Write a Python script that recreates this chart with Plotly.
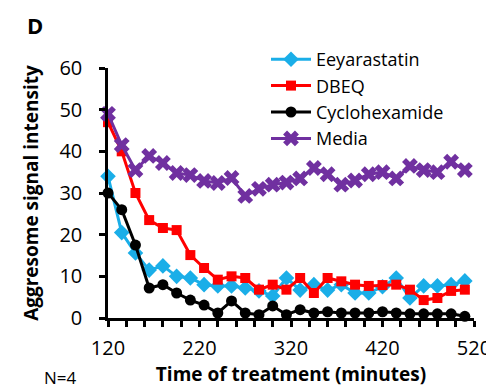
import plotly.graph_objects as go

time_min = [120, 135, 150, 165, 180, 195, 210, 225, 240, 255, 270, 285, 300, 315,
            330, 345, 360, 375, 390, 405, 420, 435, 450, 465, 480, 495, 510]

eeyarastatin = [34, 20.5, 15.6, 11.5, 12.5, 10, 9.6, 8, 7.7, 7.7, 7.2, 6.5, 5.3, 9.6,
                6.7, 8, 6.7, 8, 6, 6, 7.5, 9.6, 4.8, 7.7, 7.7, 8, 8.9]
dbeq = [47, 40, 30, 23.5, 21.6, 21.1, 15.1, 12, 9.2, 10, 9.6, 6.8, 8, 6.8,
        9.6, 6, 9.6, 8.8, 8, 7.7, 7.9, 8, 6.8, 4.3, 4.8, 6.5, 6.8]
cyclohexamide = [30, 26, 17.5, 7.2, 8, 6, 4.3, 3.1, 1.2, 4.1, 1.2, 0.8, 2.9, 0.8,
                 2, 1.2, 1.5, 1.2, 1.2, 1.2, 1.5, 1.2, 1, 1, 1, 1, 0.4]
media = [49, 41.5, 35.5, 38.9, 37.2, 34.8, 34.3, 32.9, 32.4, 33.6, 29.3, 31, 32, 32.5,
         33.5, 36, 34.5, 32, 33, 34.5, 35, 33.5, 36.5, 35.5, 35, 37.5, 35.5]

series = [
    ("Eeyarastatin", eeyarastatin, "#1AAEE8", "diamond", 12),
    ("DBEQ", dbeq, "#FF0000", "square", 10),
    ("Cyclohexamide", cyclohexamide, "#000000", "circle", 11),
    ("Media", media, "#7030A0", "x", 14),
]

FONT = "Open Sans"
fig = go.Figure()
for name, vals, color, sym, size in series:
    fig.add_trace(go.Scatter(
        x=time_min, y=vals, name=name, mode="lines+markers",
        line=dict(color=color, width=3),
        marker=dict(symbol=sym, size=size, color=color, line=dict(width=0)),
        cliponaxis=False,
    ))

L, R, T, B = 100, 28, 60, 80
W, H = 494, 390
pw, ph = W - L - R, H - T - B


def px_x(p):
    return (p - L) / pw


def px_y(p):
    return (H - B - p) / ph


fig.update_layout(
    width=W, height=H,
    margin=dict(l=L, r=R, t=T, b=B),
    paper_bgcolor="white", plot_bgcolor="white",
    font=dict(family=FONT, color="black", size=19),
    showlegend=True,
    legend=dict(x=px_x(258), y=px_y(33), xanchor="left", yanchor="top",
                bgcolor="rgba(0,0,0,0)", font=dict(size=18, family=FONT),
                itemwidth=40, tracegroupgap=0),
    xaxis=dict(range=[120, 520], tickvals=[120, 220, 320, 420, 520],
               showline=True, linecolor="black", linewidth=2.5,
               ticks="outside", ticklen=6, tickwidth=2.5, tickcolor="black",
               ticklabelstandoff=4,
               minor=dict(dtick=20, tick0=120, ticks="outside", ticklen=6,
                          tickwidth=2.5, tickcolor="black"),
               showgrid=False, zeroline=False,
               tickfont=dict(size=20, family=FONT),
               title=dict(text="<b>Time of treatment (minutes)</b>",
                          font=dict(size=19, family=FONT), standoff=8)),
    yaxis=dict(range=[0, 60], tickvals=[0, 10, 20, 30, 40, 50, 60],
               showline=True, linecolor="black", linewidth=2.5,
               ticks="outside", ticklen=6, tickwidth=2.5, tickcolor="black",
               ticklabelstandoff=13,
               showgrid=False, zeroline=False,
               tickfont=dict(size=20, family=FONT),
               title=dict(text="<b>Aggresome signal intensity</b>",
                          font=dict(size=19, family=FONT), standoff=16)),
    annotations=[
        dict(text="<b>D</b>", x=px_x(17), y=px_y(17), xref="paper", yref="paper",
             xanchor="left", yanchor="middle",
             showarrow=False, font=dict(size=22, family=FONT)),
        dict(text="N=4", x=px_x(35), y=px_y(369), xref="paper", yref="paper",
             xanchor="left", yanchor="middle", borderpad=0,
             showarrow=False, font=dict(size=17, family=FONT)),
    ],
)

fig.write_html("out.html")
